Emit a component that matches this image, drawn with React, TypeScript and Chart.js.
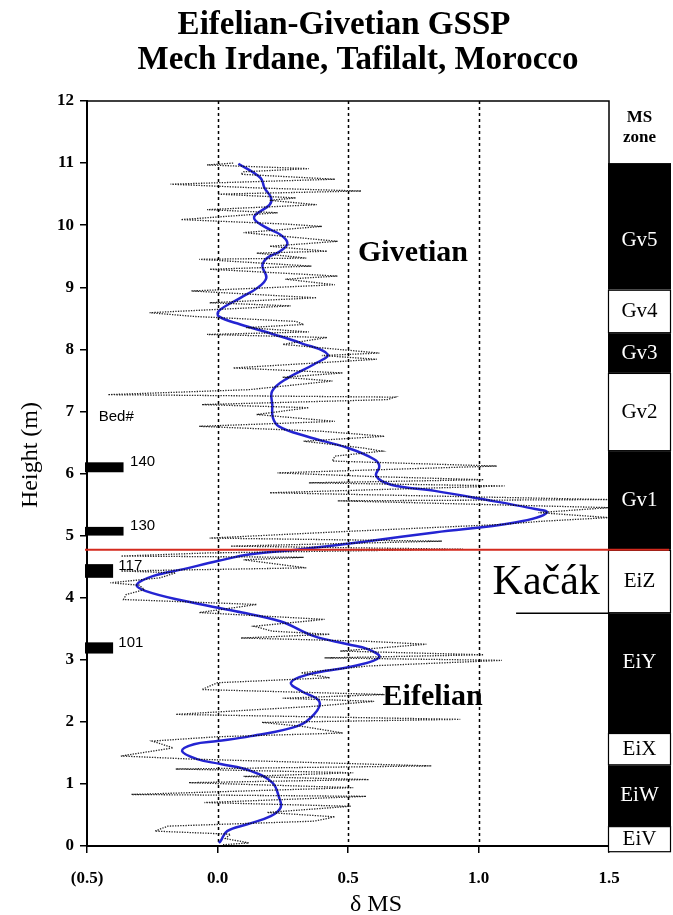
import React, { useEffect, useRef } from "react";
import { Chart, registerables } from "chart.js";

Chart.register(...registerables);

// Raw δMS measurements (height in m, value)
const rawHeight = [
  11.0, 10.97, 10.91, 10.86, 10.82, 10.74, 10.66, 10.6, 10.55, 10.5, 10.44, 10.4, 10.33, 10.25, 10.2, 10.09,
  10.02, 9.98, 9.88, 9.74, 9.66, 9.58, 9.55, 9.47, 9.45, 9.34, 9.29, 9.18, 9.13, 9.04, 8.99, 8.94, 8.83, 8.75,
  8.7, 8.59, 8.53, 8.45, 8.4, 8.35, 8.28, 8.24, 8.19, 8.08, 7.94, 7.9, 7.84, 7.7, 7.62, 7.55, 7.49, 7.35, 7.27,
  7.23, 7.19, 7.11, 7.06, 6.95, 6.84, 6.76, 6.68, 6.6, 6.52, 6.41, 6.36, 6.28, 6.2, 6.12, 6.01, 5.95, 5.9, 5.85,
  5.8, 5.69, 5.58, 5.56, 5.45, 5.37, 5.29, 5.23, 5.18, 5.07, 4.96, 4.91, 4.83, 4.78, 4.72, 4.67, 4.65, 4.61,
  4.48, 4.43, 4.4, 4.32, 4.24, 4.2, 4.13, 4.05, 3.97, 3.89, 3.76, 3.65, 3.54, 3.46, 3.41, 3.35, 3.3, 3.25, 3.14,
  3.08, 3.03, 2.99, 2.9, 2.79, 2.71, 2.63, 2.52, 2.44, 2.38, 2.33, 2.25, 2.12, 2.04, 1.99, 1.93, 1.82, 1.76,
  1.69, 1.58, 1.45, 1.4, 1.29, 1.24, 1.18, 1.12, 1.07, 1.02, 0.94, 0.83, 0.8, 0.7, 0.64, 0.54, 0.47, 0.4, 0.32,
  0.24, 0.19, 0.12, 0.05, 0.02,
];
const rawValue = [
  0.06, -0.04, 0.35, 0.1, 0.09, 0.45, -0.18, 0.15, 0.55, 0.0, 0.3, 0.2, 0.38, -0.04, 0.23, -0.14,
  0.25, 0.4, 0.1, 0.46, 0.2, 0.42, 0.15, 0.34, -0.07, 0.36, -0.03, 0.46, 0.26, 0.45, 0.18, -0.1, 0.38, -0.03,
  0.28, -0.26, -0.09, 0.3, 0.33, 0.11, 0.35, -0.04, 0.42, 0.25, 0.62, 0.4, 0.61, 0.06, 0.48, 0.25, 0.44, 0.12, -0.42,
  0.68, 0.65, -0.06, 0.35, 0.15, 0.45, -0.07, 0.4, 0.64, 0.33, 0.56, 0.63, 0.45, 0.44, 1.07, 0.23, 0.6, 1.02, 0.35,
  1.1, 0.2, 1.5, 0.46, 1.5, 1.23, 1.5, 1.24, 1.09, 0.51, -0.03, 0.86, 0.05, 0.94, -0.04, -0.37, 0.33, 0.1,
  0.34, -0.37, -0.16, -0.22, -0.41, -0.3, -0.28, -0.35, -0.36, 0.15, -0.07, 0.41, 0.14, 0.21, 0.43, 0.09, 0.56, 0.8, 0.47,
  1.02, 0.41, 1.09, 0.58, 0.32, 0.43, 0.0, -0.06, 0.64, 0.25, 0.6, 0.37, -0.16, 0.93, 0.17, 0.32, 0.48, 0.0,
  -0.25, -0.17, -0.37, -0.1, 0.82, -0.16, 0.52, 0.1, 0.58, -0.11, 0.52, -0.33, 0.57, -0.05, 0.51, 0.19, 0.45, 0.37, -0.19,
  -0.24, 0.05, 0.03, 0.12, 0.02,
];

// Smoothed δMS curve
const smoothHeight = [
  10.99, 10.76, 10.6, 10.44, 10.33, 10.13, 9.98, 9.85, 9.71, 9.58, 9.47, 9.34, 9.15, 8.99, 8.83, 8.62, 8.53, 8.4,
  8.24, 8.1, 7.92, 7.76, 7.54, 7.33, 7.1, 6.9, 6.76, 6.6, 6.41, 6.23, 6.12, 5.96, 5.82, 5.72, 5.58, 5.45, 5.37,
  5.21, 5.05, 4.91, 4.78, 4.7, 4.59, 4.46, 4.35, 4.21, 4.11, 3.95, 3.78, 3.62, 3.38, 3.25, 3.17, 3.04, 2.9, 2.76,
  2.63, 2.5, 2.33, 2.12, 1.93, 1.77, 1.69, 1.64, 1.53, 1.4, 1.32, 1.21, 1.02, 0.78, 0.62, 0.48, 0.35, 0.24, 0.08,
  0.05,
];
const smoothValue = [
  0.08, 0.165, 0.18, 0.205, 0.2, 0.14, 0.178, 0.24, 0.268, 0.24, 0.19, 0.172, 0.187, 0.153, 0.088, 0.005, 0.005, 0.088,
  0.217, 0.32, 0.422, 0.37, 0.27, 0.21, 0.21, 0.212, 0.235, 0.34, 0.5, 0.6, 0.62, 0.608, 0.665, 0.832, 1.024, 1.19, 1.262,
  1.14, 0.832, 0.576, 0.319, 0.127, 0.0, -0.13, -0.245, -0.309, -0.277, -0.13, 0.07, 0.24, 0.37, 0.499, 0.576, 0.62, 0.524, 0.345,
  0.281, 0.319, 0.39, 0.37, 0.306, 0.127, 0.0, -0.09, -0.136, -0.078, 0.012, 0.127, 0.21, 0.236, 0.242, 0.204, 0.114, 0.037, 0.012,
  0.005,
];

const xTickValues = [-0.5, 0, 0.5, 1, 1.5];
const xTickLabels = ["(0.5)", "0.0", "0.5", "1.0", "1.5"];
const dashedAt = [0, 0.5, 1];

// Magnetosusceptibility zones
const zoneNames = ["Gv5", "Gv4", "Gv3", "Gv2", "Gv1", "EiZ", "EiY", "EiX", "EiW", "EiV"];
const zoneTops = [11, 8.96, 8.26, 7.62, 6.36, 4.77, 3.75, 1.82, 1.3, 0.32];
const zoneBases = [8.96, 8.26, 7.62, 6.36, 4.77, 3.75, 1.82, 1.3, 0.32, -0.1];
const zoneDark = [true, false, true, false, true, false, true, false, true, false];
const zoneLabelHeights = [9.76, 8.61, 7.94, 6.99, 5.56, 4.26, 2.95, 1.56, 0.81, 0.11];

// Bed markers
const bedNumbers = ["140", "130", "117", "101"];
const bedHeights = [6.1, 5.07, 4.43, 3.19];
const bedThickness = [0.16, 0.14, 0.22, 0.18];
const bedEnds = [-0.36, -0.36, -0.4, -0.4];
const bedLabelX = [-0.335, -0.335, -0.38, -0.38];

const boundaryHeight = 4.77;

const SERIF = "'Liberation Serif', 'Times New Roman', serif";
const SANS = "'Liberation Sans', Arial, sans-serif";

const decorations = {
  id: "decorations",
  beforeDatasetsDraw(chart: any) {
    const { ctx, chartArea, scales } = chart;
    const xs = scales.x;
    ctx.save();
    ctx.strokeStyle = "#000";
    ctx.lineWidth = 1.5;
    ctx.setLineDash([3, 3]);
    for (const v of dashedAt) {
      const px = Math.round(xs.getPixelForValue(v)) + 0.5;
      ctx.beginPath();
      ctx.moveTo(px, chartArea.top);
      ctx.lineTo(px, chartArea.bottom);
      ctx.stroke();
    }
    ctx.restore();
  },
  afterDatasetsDraw(chart: any) {
    const { ctx, chartArea, scales } = chart;
    const xs = scales.x;
    const ys = scales.y;
    const X = (v: number) => xs.getPixelForValue(v);
    const Y = (v: number) => ys.getPixelForValue(v);
    ctx.save();

    // frame: top and right edges
    ctx.strokeStyle = "#000";
    ctx.lineWidth = 1.5;
    ctx.beginPath();
    ctx.moveTo(chartArea.left - 1, chartArea.top);
    ctx.lineTo(chartArea.right, chartArea.top);
    ctx.lineTo(chartArea.right, chartArea.bottom);
    ctx.stroke();

    // zone column
    const colL = chartArea.right - 1;
    const colR = chartArea.right + 62;
    for (let i = 0; i < zoneNames.length; i++) {
      const t = Y(zoneTops[i]);
      const b = Y(zoneBases[i]);
      if (zoneDark[i]) {
        ctx.fillStyle = "#000";
        ctx.fillRect(colL, t, colR - colL, b - t);
      } else {
        ctx.fillStyle = "#fff";
        ctx.fillRect(colL, t, colR - colL, b - t);
        ctx.strokeStyle = "#000";
        ctx.lineWidth = 1.2;
        ctx.strokeRect(colL + 0.5, t + 0.5, colR - colL - 1, b - t - 1);
      }
      ctx.fillStyle = zoneDark[i] ? "#fff" : "#000";
      ctx.font = `21px ${SERIF}`;
      ctx.textAlign = "center";
      ctx.textBaseline = "middle";
      ctx.fillText(zoneNames[i], (colL + colR) / 2, Y(zoneLabelHeights[i]));
    }
    ctx.fillStyle = "#000";
    ctx.font = `bold 17px ${SERIF}`;
    ctx.fillText("MS", (colL + colR) / 2, chartArea.top + 17);
    ctx.fillText("zone", (colL + colR) / 2, chartArea.top + 37);

    // Eifelian-Givetian boundary
    ctx.strokeStyle = "#d42a1e";
    ctx.lineWidth = 2;
    ctx.beginPath();
    ctx.moveTo(chartArea.left - 2, Y(boundaryHeight));
    ctx.lineTo(colR - 2, Y(boundaryHeight));
    ctx.stroke();

    // Kačák event
    ctx.fillStyle = "#000";
    ctx.font = `42px ${SERIF}`;
    ctx.textAlign = "right";
    ctx.fillText("Kačák", X(1.465), Y(4.23));
    ctx.strokeStyle = "#000";
    ctx.lineWidth = 1.5;
    ctx.beginPath();
    ctx.moveTo(X(1.144), Y(3.75));
    ctx.lineTo(chartArea.right, Y(3.75));
    ctx.stroke();

    // stage names
    ctx.textAlign = "center";
    ctx.font = `bold 30px ${SERIF}`;
    ctx.fillText("Givetian", X(0.749), Y(9.55));
    ctx.fillText("Eifelian", X(0.824), Y(2.4));

    // bed markers
    ctx.font = `15px ${SANS}`;
    ctx.textAlign = "left";
    ctx.fillText("Bed#", X(-0.455), Y(6.91));
    for (let i = 0; i < bedNumbers.length; i++) {
      const t = Y(bedHeights[i] + bedThickness[i] / 2);
      const b = Y(bedHeights[i] - bedThickness[i] / 2);
      ctx.fillRect(chartArea.left - 2, t, X(bedEnds[i]) - chartArea.left + 2, b - t);
      ctx.fillText(bedNumbers[i], X(bedLabelX[i]), Y(bedHeights[i]) - 5);
    }

    // titles
    ctx.textAlign = "center";
    ctx.font = `bold 33px ${SERIF}`;
    ctx.fillText("Eifelian-Givetian GSSP", 344, 25);
    ctx.fillText("Mech Irdane, Tafilalt, Morocco", 358, 60);

    ctx.font = `24px ${SERIF}`;
    ctx.fillText("δ MS", 376, 905);
    ctx.save();
    ctx.translate(31, 455);
    ctx.rotate(-Math.PI / 2);
    ctx.font = `24px ${SERIF}`;
    ctx.fillText("Height (m)", 0, 0);
    ctx.restore();

    ctx.restore();
  },
};

export default function App() {
  const ref = useRef<HTMLCanvasElement | null>(null);

  useEffect(() => {
    if (!ref.current) return;
    const raw = rawHeight.map((h, i) => ({ x: rawValue[i], y: h }));
    const smooth = smoothHeight.map((h, i) => ({ x: smoothValue[i], y: h }));
    const chart = new Chart(ref.current, {
      type: "scatter",
      data: {
        datasets: [
          {
            label: "δMS",
            data: raw,
            showLine: true,
            borderColor: "rgba(10,10,10,0.9)",
            borderWidth: 1.3,
            borderDash: [1.3, 1.3],
            pointRadius: 0,
            tension: 0,
          },
          {
            label: "smoothed",
            data: smooth,
            showLine: true,
            borderColor: "#2424d2",
            borderWidth: 2.5,
            pointRadius: 0,
            tension: 0.4,
          },
        ],
      },
      options: {
        responsive: false,
        animation: false,
        devicePixelRatio: 1,
        layout: { padding: { left: 0, right: 64, top: 101, bottom: 0 } },
        plugins: { legend: { display: false }, tooltip: { enabled: false } },
        scales: {
          x: {
            type: "linear",
            min: -0.5,
            max: 1.5,
            afterBuildTicks: (s: any) => {
              s.ticks = xTickValues.map((v) => ({ value: v }));
            },
            afterFit: (s: any) => {
              s.height = 69;
            },
            ticks: {
              color: "#000",
              padding: 15,
              font: { family: SERIF, size: 17, weight: "bold" },
              callback: (v: any) => {
                const i = xTickValues.indexOf(Number(v));
                return i >= 0 ? xTickLabels[i] : "";
              },
            },
            grid: { drawOnChartArea: false, drawTicks: true, tickLength: 7, color: "#000", lineWidth: 1.5 },
            border: { display: true, color: "#000", width: 2 },
          },
          y: {
            type: "linear",
            min: 0,
            max: 12,
            afterFit: (s: any) => {
              s.width = 87;
            },
            ticks: {
              stepSize: 1,
              color: "#000",
              padding: 6,
              font: { family: SERIF, size: 17, weight: "bold" },
            },
            grid: { drawOnChartArea: false, drawTicks: true, tickLength: 7, color: "#000", lineWidth: 1.5 },
            border: { display: true, color: "#000", width: 2 },
          },
        },
      },
      plugins: [decorations],
    });
    return () => chart.destroy();
  }, []);

  return (
    <div style={{ position: "absolute", left: 0, top: 0, width: 673, height: 915, background: "#fff" }}>
      <canvas ref={ref} width={673} height={915} />
    </div>
  );
}
